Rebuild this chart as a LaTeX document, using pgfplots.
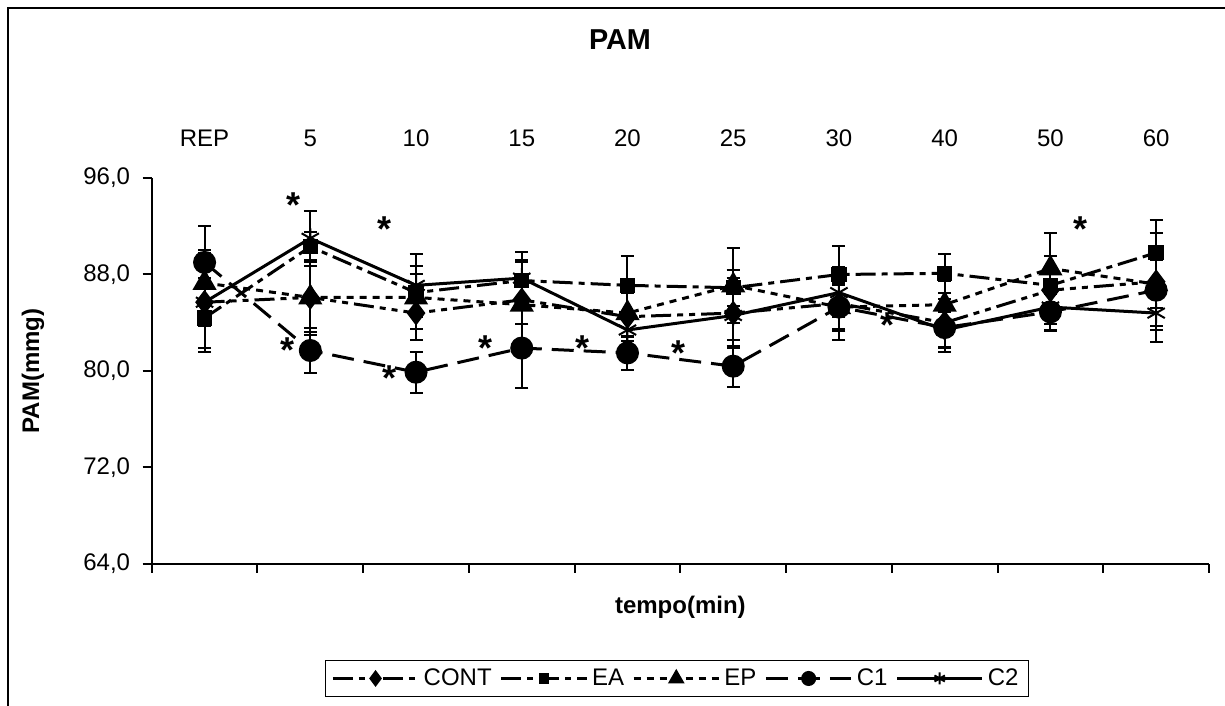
\documentclass[border=0pt]{standalone}
\usepackage{fontspec}
\setmainfont{Liberation Sans}
\usepackage{pgfplots}
\usepackage{pgfplotstable}
\pgfplotsset{compat=1.18}
\pgfplotstableread{
x y e
0.5 85.7 4.1
1.5 86.1 2.9
2.5 84.8 2.2
3.5 85.9 2.0
4.5 84.5 2.0
5.5 84.8 2.9
6.5 85.6 3.0
7.5 84.0 2.0
8.5 86.7 2.8
9.5 87.4 4.0
}\cont
\pgfplotstableread{
x y e
0.5 84.4 2.5
1.5 90.3 1.2
2.5 86.5 1.5
3.5 87.5 1.5
4.5 87.1 2.4
5.5 86.9 1.5
6.5 88.0 2.4
7.5 88.1 1.6
8.5 87.1 1.5
9.5 89.8 2.7
}\ea
\pgfplotstableread{
x y e
0.5 87.3 2.7
1.5 86.1 3.1
2.5 86.1 2.6
3.5 85.5 3.7
4.5 84.8 2.0
5.5 87.1 3.1
6.5 85.3 2.0
7.5 85.5 2.0
8.5 88.5 2.9
9.5 87.2 2.0
}\ep
\pgfplotstableread{
x y e
0.5 89.0 3.0
1.5 81.7 1.9
2.5 79.9 1.7
3.5 81.9 3.3
4.5 81.5 1.4
5.5 80.4 1.7
6.5 85.3 1.8
7.5 83.6 2.0
8.5 84.9 1.5
9.5 86.7 3.0
}\cone
\pgfplotstableread{
x y e
0.5 85.7 2.0
1.5 91.0 2.3
2.5 87.1 2.6
3.5 87.7 2.2
4.5 83.4 1.5
5.5 84.6 2.0
6.5 86.5 2.0
7.5 83.4 1.5
8.5 85.3 2.0
9.5 84.8 2.4
}\ctwo
\begin{document}
\begin{tikzpicture}
\useasboundingbox (0,0) rectangle (612.5pt,353pt);
\draw[line width=1pt] (4pt,-2pt) -- (4pt,349pt) -- (615pt,349pt);
\begin{axis}[
  at={(75.85pt,71pt)}, anchor=south west,
  scale only axis, width=528.65pt, height=193pt,
  xmin=0, xmax=10, ymin=64, ymax=96,
  clip=false,
  axis x line*=bottom, axis y line*=left,
  axis line style={line width=1pt},
  tick align=outside,
  major tick length=4.5pt, minor tick length=4.3pt,
  tick style={line width=1pt, black},
  ytick={64,72,80,88,96},
  xtick={0.5,1.5,2.5,3.5,4.5,5.5,6.5,7.5,8.5,9.5},
  xticklabels={REP,5,10,15,20,25,30,40,50,60},
  minor xtick={0,1,2,3,4,5,6,7,8,9,10},
  major x tick style={draw=none},
  xticklabel style={anchor=base, yshift=213pt},
  yticklabel style={xshift=-2.8pt},
  tick label style={font=\fontsize{12}{14}\selectfont},
  /pgf/number format/fixed, /pgf/number format/fixed zerofill,
  /pgf/number format/precision=1, /pgf/number format/use comma,
  /pgf/number format/assume math mode=true,
  title={PAM},
  title style={at={(axis description cs:0.4429,1.3264)}, anchor=center, yshift=0pt, font=\bfseries\fontsize{14.4}{16}\selectfont},
  xlabel={tempo(min)},
  xlabel style={at={(axis description cs:0.5,-0.1114)}, anchor=center, font=\bfseries\fontsize{12}{14}\selectfont},
  ylabel={PAM(mmg)},
  ylabel style={at={(axis description cs:-0.1123,0.5)}, anchor=center, font=\bfseries\fontsize{12}{14}\selectfont},
  legend columns=5,
  legend style={at={(axis description cs:0.4968,-0.2966)}, anchor=center, draw=black, line width=0.8pt,
    font=\fontsize{12}{14}\selectfont, /tikz/every even column/.append style={column sep=2pt}},
  legend image code/.code={\draw[mark repeat=2,mark phase=2,#1,every mark/.append style={scale=0.6}] plot coordinates {(0cm,0cm) (0.75cm,0cm) (1.5cm,0cm)};},
  every axis plot/.append style={black, line width=1.5pt},
  error bars/error bar style={line width=1pt, solid, black},
  error bars/error mark options={rotate=90, mark size=3.25pt, line width=1pt, solid, black},
]
\addplot[black, line width=1.5pt, dash pattern=on 10pt off 3pt on 3pt off 3pt on 3pt off 3pt,
  mark=diamond*, mark size=5pt, mark options={solid, fill=black},
  error bars/.cd, y dir=both, y explicit]
  table[x=x, y=y, y error=e] {\cont};
\addlegendentry{CONT}
\addplot[black, line width=1.5pt, dash pattern=on 10pt off 3pt on 3pt off 3pt,
  mark=square*, mark size=3.1pt, mark options={solid, fill=black},
  error bars/.cd, y dir=both, y explicit]
  table[x=x, y=y, y error=e] {\ea};
\addlegendentry{EA}
\addplot[black, line width=1.5pt, dash pattern=on 3.5pt off 3pt,
  mark=triangle*, mark size=5.5pt, mark options={solid, fill=black},
  error bars/.cd, y dir=both, y explicit]
  table[x=x, y=y, y error=e] {\ep};
\addlegendentry{EP}
\addplot[black, line width=1.5pt, dash pattern=on 11pt off 5pt,
  mark=*, mark size=5pt, mark options={solid, fill=black},
  error bars/.cd, y dir=both, y explicit]
  table[x=x, y=y, y error=e] {\cone};
\addlegendentry{C1}
\addplot[black, line width=1.5pt, solid,
  mark=asterisk, mark size=5pt, mark options={solid, line width=1pt},
  error bars/.cd, y dir=both, y explicit]
  table[x=x, y=y, y error=e] {\ctwo};
\addlegendentry{C2}
\begin{scope}[every node/.style={anchor=base, font=\bfseries\fontsize{18}{20}\selectfont, yshift=-10.4pt, inner sep=0pt}]
\node at (axis cs:1.337,94.42) {*};
\node at (axis cs:2.198,92.43) {*};
\node at (axis cs:1.280,82.40) {*};
\node at (axis cs:2.245,80.08) {*};
\node at (axis cs:3.153,82.57) {*};
\node at (axis cs:4.071,82.57) {*};
\node at (axis cs:4.979,82.15) {*};
\node at (axis cs:6.956,84.47) {*};
\node at (axis cs:8.782,92.43) {*};
\end{scope}
\end{axis}
\end{tikzpicture}
\end{document}
